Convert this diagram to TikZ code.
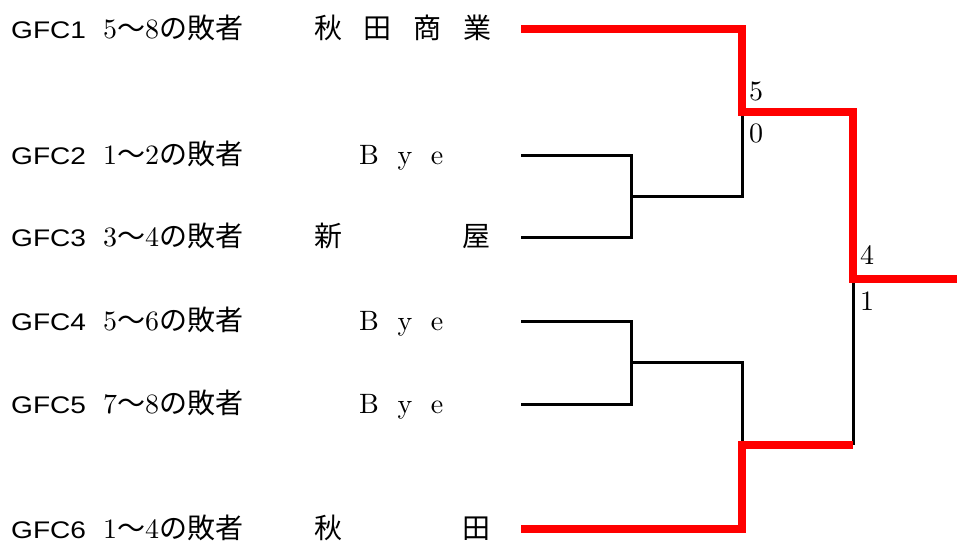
\documentclass[tikz,border=0pt]{standalone}
\usepackage{fontspec}
\setmainfont{lmroman10-regular.otf}
\newfontfamily\cjk{Noto Sans CJK JP}
\newfontfamily\gfcfont[FakeStretch=1.17]{Liberation Sans}

\begin{document}
\begin{tikzpicture}[x=1pt,y=-1pt,
	every node/.style={inner sep=0pt,anchor=base west,font=\fontsize{28}{30}\selectfont},
	gfc/.style={font=\fontsize{24}{28}\selectfont\gfcfont},
	score/.style={anchor=center,font=\fontsize{28}{30}\selectfont},
	thin/.style={line width=3pt},
	win/.style={line width=8pt,red}]
\useasboundingbox (0,0) rectangle (957,542);

\node[gfc] (g1) at (11,38) {GFC1};
\node (l1) at (103,38) {5{\cjk 〜}8{\cjk の敗者}};
\node (n1) at (314,38) {\hbox to 177pt{\cjk 秋\hfill 田\hfill 商\hfill 業}};

\node[gfc] (g2) at (11,164) {GFC2};
\node (l2) at (103,164) {1{\cjk 〜}2{\cjk の敗者}};
\node (n2) at (359,164) {\hbox to 84pt{B\hfill y\hfill e}};

\node[gfc] (g3) at (11,246) {GFC3};
\node (l3) at (103,246) {3{\cjk 〜}4{\cjk の敗者}};
\node (n3) at (314,246) {\hbox to 176pt{\cjk 新\hfill 屋}};

\node[gfc] (g4) at (11,330) {GFC4};
\node (l4) at (103,330) {5{\cjk 〜}6{\cjk の敗者}};
\node (n4) at (359,330) {\hbox to 84pt{B\hfill y\hfill e}};

\node[gfc] (g5) at (11,413) {GFC5};
\node (l5) at (103,413) {7{\cjk 〜}8{\cjk の敗者}};
\node (n5) at (359,413) {\hbox to 84pt{B\hfill y\hfill e}};

\node[gfc] (g6) at (11,538) {GFC6};
\node (l6) at (103,538) {1{\cjk 〜}4{\cjk の敗者}};
\node (n6) at (314,538) {\hbox to 176pt{\cjk 秋\hfill 田}};

\coordinate (t1) at (521,29);
\coordinate (t2) at (521,155);
\coordinate (t3) at (521,237);
\coordinate (t4) at (521,321);
\coordinate (t5) at (521,404);
\coordinate (t6) at (521,529);
\coordinate (m1) at (631,196);
\coordinate (m2) at (631,362);
\coordinate (s1) at (742,112);
\coordinate (s2) at (742,445);
\coordinate (f) at (853,279);
\coordinate (w) at (957,279);

\draw[thin] (t2) -| (m1) |- (t3);
\draw[thin] (t4) -| (m2) |- (t5);
\draw[thin] (m1) -| (s1);
\draw[thin] (m2) -| (s2);
\draw[thin] (s2 -| f) -- (f);

\draw[win] (t1) -| (s1) -| (f) -- (w);
\draw[win] (t6) -| (s2) -- (s2 -| f);

\node[score] (r1) at (756,91) {5};
\node[score] (r2) at (756,133) {0};
\node[score] (r3) at (867,255) {4};
\node[score] (r4) at (867,301) {1};
\end{tikzpicture}
\end{document}
